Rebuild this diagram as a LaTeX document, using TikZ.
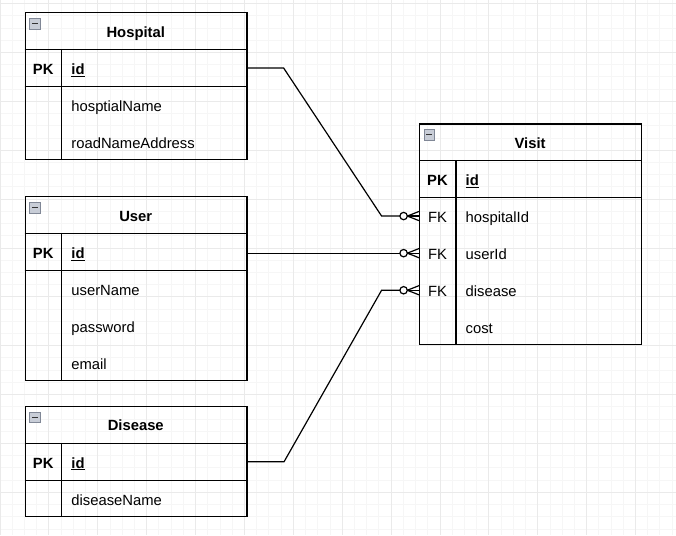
\documentclass[tikz,border=0pt]{standalone}
\usepackage{fontspec}
\setmainfont{Liberation Sans}
\usetikzlibrary{calc}
\definecolor{gridminor}{RGB}{246,246,246}
\definecolor{gridmajor}{RGB}{234,234,234}
\definecolor{iconfill}{RGB}{200,205,215}
\definecolor{iconline}{RGB}{128,135,150}
\tikzset{
  tblbox/.style={draw, line width=1.2pt, rectangle, minimum width=221.7, inner sep=0, anchor=north west},
  rowbox/.style={rectangle, minimum width=221.7, minimum height=36.7, inner sep=0, anchor=north west},
  tblline/.style={line width=1.2pt},
  titletxt/.style={inner sep=0, font=\fontsize{14.8}{17}\selectfont\bfseries, text height=10.5, text depth=3, yshift=-2.6pt},
  keytxt/.style={inner sep=0, anchor=center, font=\fontsize{14.8}{17}\selectfont, text height=10.5, text depth=3, yshift=-2.6pt},
  fieldtxt/.style={inner sep=0, anchor=west, font=\fontsize{14.8}{17}\selectfont, text height=10.5, text depth=3, yshift=-2.6pt},
  conn/.style={line width=1.2pt, line join=miter},
  icon/.style={fill=iconfill, draw=iconline, line width=0.8pt},
}
\newcommand{\ERhead}[5]{%
  \node[tblbox, minimum height={36.7*(#5+1)}] (#1) at (#2,#3) {};
  \node[rowbox] (#1-h) at (#2,#3) {};
  \node[titletxt] (#1-t) at (#1-h.center) {#4};
  \draw[icon] ($(#1-h.north west)+(5,6)$) rectangle ($(#1-h.north west)+(15.8,16.8)$);
  \draw[line width=1.4pt, black!80] ($(#1-h.north west)+(7.4,11.4)$) -- ($(#1-h.north west)+(13.4,11.4)$);
  \draw[tblline] (#1-h.south west) -- (#1-h.south east);
  \draw[tblline] ($(#1-h.south west)+(37,0)$) -- ($(#1.south west)+(37,0)$);
}
\newcommand{\ERrow}[4]{%
  \node[rowbox] (#2) at (#1.south west) {};
  \node[keytxt] (#2-k) at ($(#2.west)+(18.5,0)$) {#3};
  \node[fieldtxt] (#2-f) at ($(#2.west)+(46.5,0)$) {#4};
}
\newcommand{\ZeroMany}[1]{%
  \draw[conn] ($(#1.west)+(-15.4,0)$) circle[radius=3.7];
  \draw[conn] ($(#1.west)+(-11.7,0)$) -- (#1.west);
  \draw[conn] ($(#1.west)+(-11.7,0)$) -- ($(#1.west)+(0,-4.6)$);
  \draw[conn] ($(#1.west)+(-11.7,0)$) -- ($(#1.west)+(0,4.6)$);
}
\begin{document}
\begin{tikzpicture}[x=1pt,y=-1pt]
\useasboundingbox (0,0) rectangle (676,535);
\fill[white] (0,0) rectangle (676,535);
% grid
\foreach \i in {0,...,55} {\draw[gridminor, line width=0.8pt] (\i*12.22,0) -- (\i*12.22,535);}
\foreach \j in {0,...,43} {\draw[gridminor, line width=0.8pt] (0,3.5+\j*12.22) -- (676,3.5+\j*12.22);}
\foreach \i in {0,...,13} {\draw[gridmajor, line width=0.8pt] (\i*48.88,0) -- (\i*48.88,535);}
\foreach \j in {0,...,10} {\draw[gridmajor, line width=0.8pt] (0,3.5+\j*48.88) -- (676,3.5+\j*48.88);}

% Hospital
\ERhead{hosp}{24.7}{12.3}{Hospital}{3}
\ERrow{hosp-h}{hosp-id}{\textbf{PK}}{\textbf{\underline{id}}}
\ERrow{hosp-id}{hosp-r1}{}{hosptialName}
\ERrow{hosp-r1}{hosp-r2}{}{roadNameAddress}
\draw[tblline] (hosp-id.south west) -- (hosp-id.south east);

% User
\ERhead{user}{24.7}{196.2}{User}{4}
\ERrow{user-h}{user-id}{\textbf{PK}}{\textbf{\underline{id}}}
\ERrow{user-id}{user-r1}{}{userName}
\ERrow{user-r1}{user-r2}{}{password}
\ERrow{user-r2}{user-r3}{}{email}
\draw[tblline] (user-id.south west) -- (user-id.south east);

% Disease
\ERhead{dis}{24.7}{406}{Disease}{2}
\ERrow{dis-h}{dis-id}{\textbf{PK}}{\textbf{\underline{id}}}
\ERrow{dis-id}{dis-r1}{}{diseaseName}
\draw[tblline] (dis-id.south west) -- (dis-id.south east);

% Visit
\ERhead{visit}{419}{123.3}{Visit}{5}
\ERrow{visit-h}{visit-id}{\textbf{PK}}{\textbf{\underline{id}}}
\ERrow{visit-id}{visit-r1}{FK}{hospitalId}
\ERrow{visit-r1}{visit-r2}{FK}{userId}
\ERrow{visit-r2}{visit-r3}{FK}{disease}
\ERrow{visit-r3}{visit-r4}{}{cost}
\draw[tblline] (visit-id.south west) -- (visit-id.south east);

% connectors
\draw[conn] (hosp-id.east) -- ($(hosp-id.east)+(36.8,0)$) -- ($(visit-r1.west)+(-37.4,0)$) -- ($(visit-r1.west)+(-19.1,0)$);
\ZeroMany{visit-r1}
\draw[conn] (user-id.east |- visit-r2.west) -- ($(visit-r2.west)+(-19.1,0)$);
\ZeroMany{visit-r2}
\draw[conn] (dis-id.east) -- ($(dis-id.east)+(37.3,0)$) -- ($(visit-r3.west)+(-37.4,0)$) -- ($(visit-r3.west)+(-19.1,0)$);
\ZeroMany{visit-r3}
\end{tikzpicture}
\end{document}
